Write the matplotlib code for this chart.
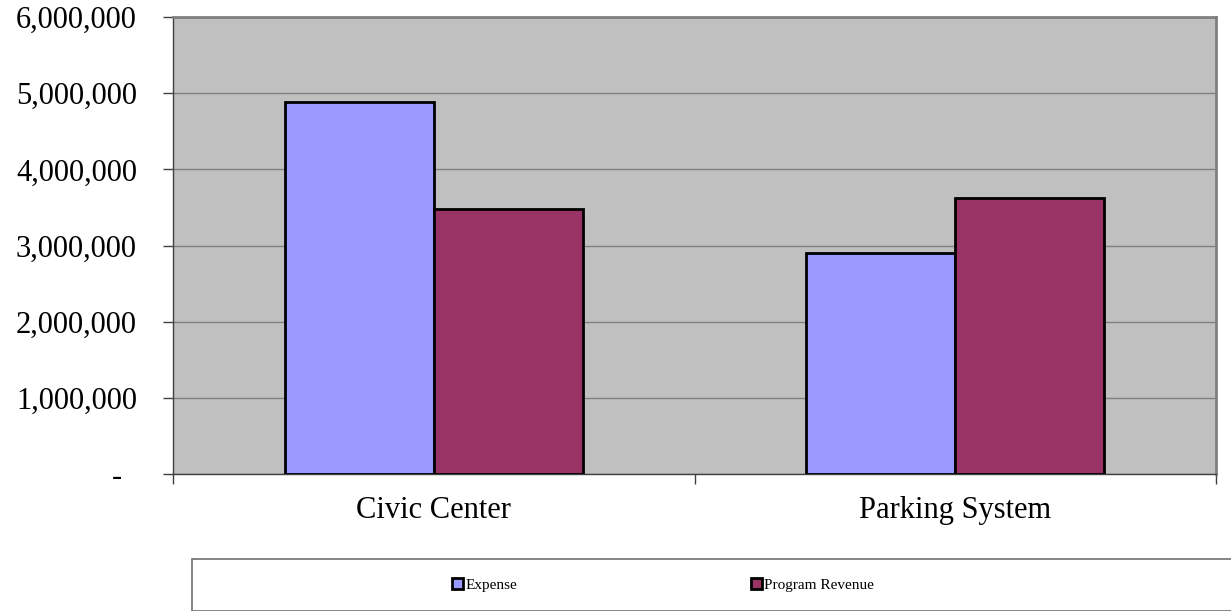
import numpy as np
import matplotlib
matplotlib.use("Agg")
from matplotlib import pyplot as plt
from matplotlib.patches import Rectangle
from matplotlib.ticker import FuncFormatter

categories = ["Civic Center", "Parking System"]
expense = [4890000, 2900000]
program_revenue = [3480000, 3620000]
series_names = ["Expense", "Program Revenue"]
colors = ["#9999FF", "#993366"]

plt.rcParams['font.family'] = ['Liberation Serif', 'DejaVu Serif']

fig = plt.figure(figsize=(12.31, 6.11), dpi=100)
ax = fig.add_axes([173 / 1231, 1 - 474 / 611, 1043 / 1231, 457 / 611])
ax.set_facecolor("#C0C0C0")

x = np.arange(len(categories))
w = 0.286
bars = []
for i, (vals, name) in enumerate(zip([expense, program_revenue], series_names)):
    b = ax.bar(x + (i - 0.5) * w, vals, width=w, color=colors[i], edgecolor="black",
               linewidth=2.0, label=name, zorder=3)
    bars.append(b)

ax.set_xlim(-0.5, 1.5)
ax.set_ylim(0, 6000000)
ax.set_yticks(np.arange(0, 6000001, 1000000))
ax.yaxis.set_major_formatter(FuncFormatter(lambda v, p: "-  " if v == 0 else f"{int(v):,}"))
ax.grid(axis="y", color="#808080", linewidth=1.0, zorder=1)
ax.tick_params(axis="y", length=7, width=1, color="#404040", labelsize=22, pad=19)

ax.set_xticks(x)
ax.set_xticklabels(categories)
ax.set_xticks([-0.5, 0.5, 1.5], minor=True)
ax.tick_params(axis="x", which="major", length=0, labelsize=22, pad=16)
ax.tick_params(axis="x", which="minor", length=7, width=1, color="#404040")

for s in ["top", "right"]:
    ax.spines[s].set_color("#808080")
    ax.spines[s].set_linewidth(2)
for s in ["left", "bottom"]:
    ax.spines[s].set_color("#404040")
    ax.spines[s].set_linewidth(1)

# legend box
fig.patches.append(Rectangle((192 / 1231, 0.0), 1.0, 52 / 611, transform=fig.transFigure,
                             facecolor="white", edgecolor="#707070", linewidth=1.2,
                             clip_on=False))
fig.legend(handles=bars, labels=series_names, loc="center",
           bbox_to_anchor=(663 / 1231, 1 - 585 / 611), ncol=2, frameon=False,
           fontsize=11, handlelength=0.7, handleheight=0.7, handletextpad=0.15,
           columnspacing=15.3)

fig.savefig("out.png", dpi=100)
